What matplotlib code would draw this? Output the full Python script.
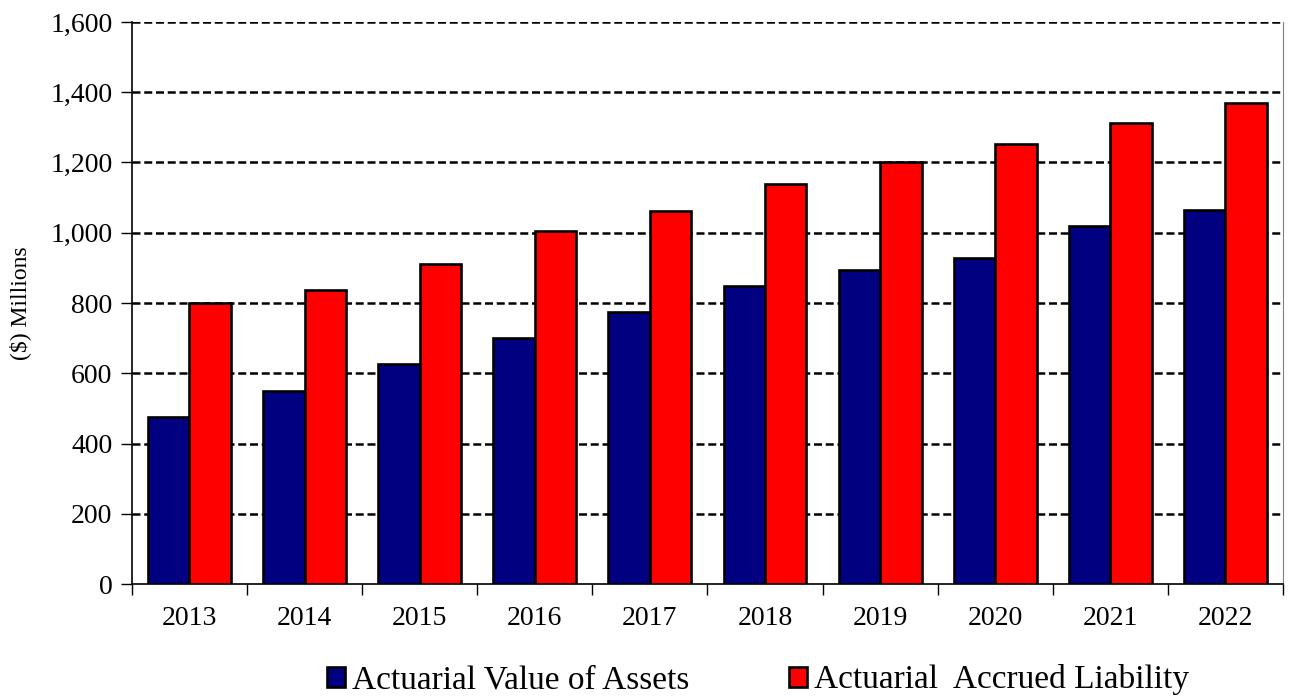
import matplotlib.pyplot as plt
from matplotlib.ticker import FuncFormatter
import numpy as np

years = ["2013", "2014", "2015", "2016", "2017", "2018", "2019", "2020", "2021", "2022"]
assets = [475, 549, 626, 700, 774, 848, 894, 928, 1018, 1066]
liability = [800, 837, 911, 1005, 1062, 1140, 1201, 1253, 1312, 1370]

plt.rcParams['font.family'] = ['Liberation Serif', 'DejaVu Serif']

fig = plt.figure(figsize=(12.91, 6.98), dpi=100)
ax = fig.add_axes([0.1022, 0.1633, 0.8916, 0.8052])

x = np.arange(len(years))
w = 0.36
ax.bar(x - w/2, assets, w, color='#000080', edgecolor='black', lw=1.9,
       label='Actuarial Value of Assets', zorder=3)
ax.bar(x + w/2, liability, w, color='#ff0000', edgecolor='black', lw=1.9,
       label='Actuarial  Accrued Liability', zorder=3)

ax.set_xlim(-0.5, len(years) - 0.5)
ax.set_ylim(0, 1600)
ax.set_yticks(range(0, 1601, 200))
ax.yaxis.set_major_formatter(FuncFormatter(lambda v, p: f"{int(v):,}"))
for v in range(200, 1601, 200):
    ax.axhline(v, color='black', lw=1.8, ls=(0, (3.2, 1.5)), zorder=1)

# group separators as ticks, labels at centers
ax.set_xticks(np.arange(-0.5, len(years), 1.0))
ax.set_xticklabels([])
ax.set_xticks(x, minor=True)
ax.set_xticklabels(years, minor=True)
ax.tick_params(axis='x', which='major', length=8, width=1, direction='out')
ax.tick_params(axis='x', which='minor', length=0, pad=16, labelsize=20)
ax.tick_params(axis='y', length=8, width=1, direction='out', labelsize=20, pad=6)

ax.spines['top'].set_visible(False)
ax.spines['right'].set_color('#808080')
ax.spines['left'].set_linewidth(1.2)
ax.spines['bottom'].set_linewidth(1.2)

ax.set_ylabel('($) Millions', fontsize=17, labelpad=14)

fig.legend(loc='center', bbox_to_anchor=(0.587, 0.026), ncol=2, frameon=False,
           fontsize=24, handlelength=0.55, handleheight=0.55, handletextpad=0.2,
           columnspacing=3.0)

fig.savefig('out.png', dpi=100)
